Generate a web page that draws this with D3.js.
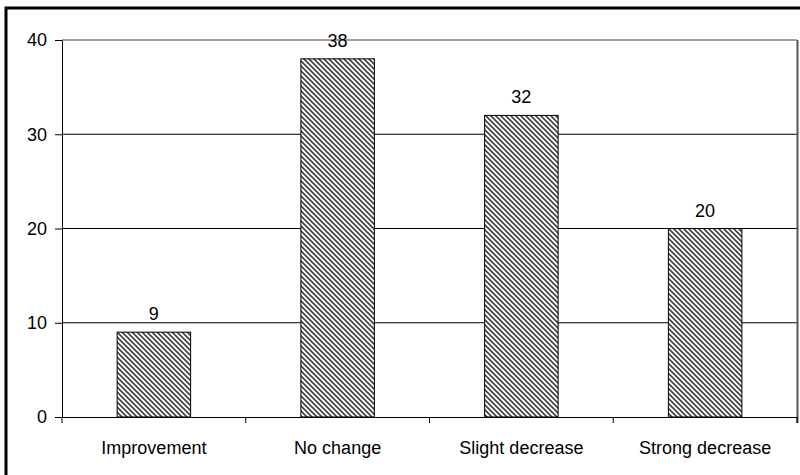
<!DOCTYPE html>
<html><head><meta charset="utf-8">
<script src="https://cdn.jsdelivr.net/npm/d3@7"></script>
<style>body{margin:0;background:#fff;}svg{display:block;font-family:"Liberation Sans",Arial,sans-serif;}</style>
</head><body>
<script>
const categories = ["Improvement","No change","Slight decrease","Strong decrease"];
const values = [9,38,32,20];
const yTicks = [0,10,20,30,40];

const W=800,H=475;
const m={left:62,right:3,top:40,bottom:58};
const FS=18;
const svg=d3.select("body").append("svg").attr("width",W).attr("height",H);
const defs=svg.append("defs");
const pat=defs.append("pattern").attr("id","hatch").attr("patternUnits","userSpaceOnUse")
  .attr("width",5).attr("height",5);
pat.append("rect").attr("width",5).attr("height",5).attr("fill","#fff");
pat.append("path").attr("d","M-1,-1L6,6M-1,4L1,6M4,-1L6,1").attr("stroke","#444").attr("stroke-width",1.7);

const x=d3.scaleBand().domain(categories).range([m.left,W-m.right]).paddingInner(0.6).paddingOuter(0.3);
const y=d3.scaleLinear().domain([0,40]).range([H-m.bottom,m.top]);

// outer border
svg.append("path").attr("d",`M6,475L6,8L800,8`).attr("fill","none").attr("stroke","#000").attr("stroke-width",3);

// gridlines
svg.append("g").selectAll("line").data(yTicks.filter(d=>d>0)).join("line")
  .attr("x1",m.left).attr("x2",W-m.right).attr("y1",d=>y(d)).attr("y2",d=>y(d))
  .attr("stroke",(d)=>d===40?"#444":"#000").attr("stroke-width",1);
// right border
svg.append("line").attr("x1",W-m.right+0.5).attr("x2",W-m.right+0.5).attr("y1",y(40)).attr("y2",y(0)+6)
  .attr("stroke","#555").attr("stroke-width",2);

// bars
svg.append("g").selectAll("rect").data(values).join("rect")
  .attr("x",(d,i)=>x(categories[i])).attr("width",x.bandwidth())
  .attr("y",d=>y(d)).attr("height",d=>y(0)-y(d))
  .attr("fill","url(#hatch)").attr("stroke","#000").attr("stroke-width",1);

// value labels
svg.append("g").selectAll("text").data(values).join("text")
  .attr("x",(d,i)=>x(categories[i])+x.bandwidth()/2).attr("y",d=>y(d)-12)
  .attr("text-anchor","middle").attr("font-size",FS).text(d=>d);

// y axis
const ya=svg.append("g").attr("transform",`translate(${m.left},0)`)
  .call(d3.axisLeft(y).tickValues(yTicks).tickSize(7).tickPadding(8).tickSizeOuter(0));
ya.select(".domain").attr("stroke","#000");
ya.selectAll("text").attr("font-size",FS).attr("fill","#000").attr("font-family","Liberation Sans, Arial, sans-serif");

// x axis
const xa=svg.append("g").attr("transform",`translate(0,${y(0)})`)
  .call(d3.axisBottom(x).tickSize(0).tickPadding(24).tickSizeOuter(0));
xa.select(".domain").attr("stroke","#000");
xa.selectAll("text").attr("font-size",FS).attr("fill","#000").attr("font-family","Liberation Sans, Arial, sans-serif");
const bounds=categories.map(c=>x(c)-x.step()*x.paddingOuter()).concat([W-m.right]);
xa.selectAll(".bt").data(bounds).join("line").attr("class","bt")
  .attr("x1",d=>d).attr("x2",d=>d).attr("y1",0).attr("y2",6).attr("stroke","#000");
</script>
</body></html>
